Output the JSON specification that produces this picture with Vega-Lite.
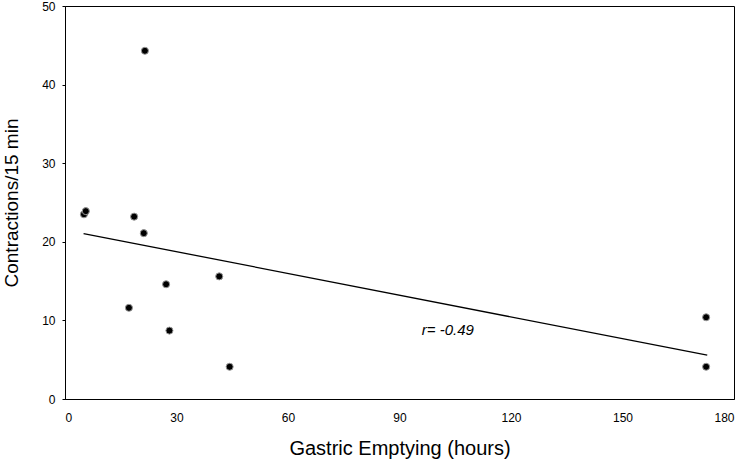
{
  "$schema": "https://vega.github.io/schema/vega-lite/v6.json",
  "width": 669,
  "height": 393,
  "autosize": "none",
  "padding": {"left": 65, "top": 6, "right": 11, "bottom": 60},
  "background": "white",
  "config": {
    "view": {"stroke": "black", "strokeWidth": 1},
    "font": "Liberation Sans",
    "axis": {
      "grid": false,
      "domainColor": "black",
      "tickColor": "black",
      "labelColor": "black",
      "titleColor": "black",
      "labelFont": "Liberation Sans",
      "titleFont": "Liberation Sans",
      "labelFontSize": 12,
      "titleFontWeight": "normal"
    }
  },
  "datasets": {
    "pts": [
      {"x": 21.5, "y": 44.3},
      {"x": 5.1, "y": 23.5},
      {"x": 5.6, "y": 23.9},
      {"x": 18.6, "y": 23.2},
      {"x": 21.2, "y": 21.1},
      {"x": 41.5, "y": 15.6},
      {"x": 27.2, "y": 14.6},
      {"x": 17.2, "y": 11.6},
      {"x": 28.1, "y": 8.7},
      {"x": 44.3, "y": 4.1},
      {"x": 172.5, "y": 10.4},
      {"x": 172.5, "y": 4.1}
    ],
    "fit": [
      {"x": 5.0, "y": 21.05},
      {"x": 172.8, "y": 5.57}
    ],
    "lab": [
      {"x": 96, "y": 8.8, "t": "r= -0.49"}
    ]
  },
  "layer": [
    {
      "data": {"name": "fit"},
      "mark": {"type": "line", "color": "black", "strokeWidth": 1.3},
      "encoding": {
        "x": {
          "field": "x", "type": "quantitative",
          "scale": {"domain": [0, 180], "nice": false},
          "axis": {"values": [0, 30, 60, 90, 120, 150, 180], "tickSize": 0, "labelPadding": 13, "title": "Gastric Emptying (hours)", "titleFontSize": 20, "titlePadding": 15}
        },
        "y": {
          "field": "y", "type": "quantitative",
          "scale": {"domain": [0, 50], "nice": false},
          "axis": {"values": [0, 10, 20, 30, 40, 50], "tickSize": 3, "labelPadding": 7, "title": "Contractions/15 min", "titleFontSize": 19, "titlePadding": 20}
        }
      }
    },
    {
      "data": {"name": "pts"},
      "mark": {"type": "circle", "size": 50, "color": "black", "opacity": 1, "stroke": "#999999", "strokeWidth": 1},
      "encoding": {
        "x": {"field": "x", "type": "quantitative"},
        "y": {"field": "y", "type": "quantitative"}
      }
    },
    {
      "data": {"name": "lab"},
      "mark": {"type": "text", "align": "left", "baseline": "middle", "fontStyle": "italic", "fontSize": 15, "font": "Liberation Sans", "color": "black"},
      "encoding": {
        "x": {"field": "x", "type": "quantitative"},
        "y": {"field": "y", "type": "quantitative"},
        "text": {"field": "t"}
      }
    }
  ]
}
